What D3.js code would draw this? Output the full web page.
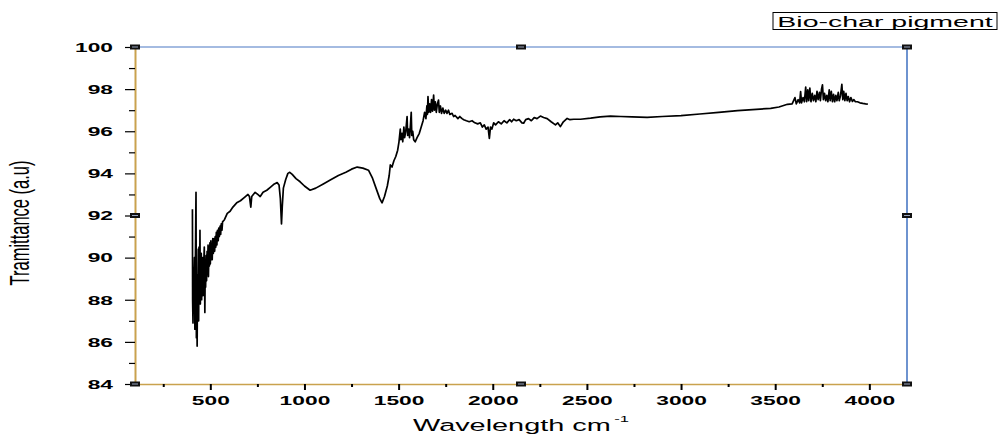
<!DOCTYPE html>
<html>
<head>
<meta charset="utf-8">
<script src="https://cdn.jsdelivr.net/npm/d3@7"></script>
<style>
  html, body { margin: 0; padding: 0; background: #fff; }
  svg { display: block; }
  text { font-family: "Liberation Sans", Arial, sans-serif; fill: #000; }
</style>
</head>
<body>
<svg id="chart" width="999" height="436"></svg>
<script>
// ---- data ----
const legendLabel = "Bio-char pigment";
const xTitle = "Wavelength cm";
const xTitleSup = "-1";
const yTitle = "Tramittance (a.u)";
const xDomain = [100, 4200];
const yDomain = [84, 100];
const xTickValues = [500, 1000, 1500, 2000, 2500, 3000, 3500, 4000];
const xMinorTicks = [250, 750, 1250, 1750, 2250, 2750, 3250, 3750];
const yTickValues = [84, 86, 88, 90, 92, 94, 96, 98, 100];
const yMinorTicks = [85, 87, 89, 91, 93, 95, 97, 99];

const spectrum = [
  [405, 92.3],[406, 88.0],[408, 86.9],[410, 89.5],[412, 87.4],[413, 88.8],[416, 90.0],[418, 86.6],
  [419, 88.2],[422, 91.0],[424, 93.1],[426, 86.2],[428, 88.5],[430, 85.8],[432, 89.2],[433, 87.6],
  [436, 90.4],[438, 87.0],[440, 90.5],[443, 88.2],[445, 91.3],[447, 87.8],[448, 89.4],[452, 90.2],
  [454, 88.0],[456, 89.6],[460, 90.0],[462, 88.2],[464, 89.4],[468, 90.5],[471, 87.4],[473, 89.6],
  [475, 88.6],[478, 90.1],[480, 88.9],[483, 90.3],[485, 89.2],[488, 90.6],[490, 89.1],[493, 90.5],
  [495, 89.6],[498, 90.7],[500, 89.7],[503, 90.8],[505, 89.9],[508, 90.6],[510, 89.9],[513, 90.9],
  [516, 90.2],[520, 90.9],[523, 90.3],[526, 91.0],[529, 90.5],[532, 91.2],[535, 90.6],[538, 91.3],
  [542, 90.8],[545, 91.4],[548, 91.0],[552, 91.5],[555, 91.1],[558, 91.6],[562, 91.3],[565, 91.7],
  [575, 91.8],[590, 92.1],[605, 92.2],[620, 92.4],[640, 92.6],[660, 92.7],[680, 92.85],
  [700, 93.0],[708, 92.9],[715, 92.4],[720, 92.9],[738, 93.1],[752, 93.0],[765, 92.9],[780, 93.1],
  [800, 93.2],[820, 93.35],[840, 93.5],[855, 93.56],[865, 93.45],[872, 92.8],[878, 91.6],[882, 92.4],
  [888, 93.3],[900, 93.7],[912, 94.0],[922, 94.05],[935, 93.95],[955, 93.75],[977, 93.6],[1000, 93.4],
  [1030, 93.2],[1060, 93.3],[1100, 93.5],[1137, 93.68],[1180, 93.9],[1220, 94.05],[1250, 94.2],
  [1280, 94.3],[1310, 94.25],[1340, 94.15],[1360, 93.8],[1380, 93.3],[1400, 92.8],[1412, 92.6],
  [1425, 92.9],[1440, 93.4],[1450, 93.9],[1456, 94.4],[1465, 94.3],[1475, 94.6],[1485, 94.8],
  [1495, 95.1],[1502, 95.5],[1509, 96.1],[1512, 95.6],[1518, 95.9],[1522, 95.5],[1528, 96.2],
  [1532, 95.7],[1538, 96.0],[1545, 96.7],[1548, 95.8],[1553, 96.1],[1558, 95.7],[1563, 96.3],
  [1567, 96.9],[1570, 95.8],[1575, 96.0],[1580, 95.6],[1588, 95.5],[1598, 95.7],[1610, 95.9],
  [1620, 96.2],[1630, 96.5],[1638, 96.9],[1645, 96.6],[1650, 97.2],[1653, 96.8],[1656, 97.65],
  [1660, 96.9],[1665, 97.3],[1670, 96.9],[1675, 97.5],[1680, 96.95],[1686, 97.72],[1690, 97.0],
  [1695, 97.4],[1700, 96.9],[1706, 97.3],[1712, 97.48],[1716, 96.9],[1722, 97.2],[1728, 96.85],
  [1735, 97.1],[1742, 96.85],[1750, 97.0],[1757, 96.85],[1765, 97.0],[1772, 96.8],[1784, 96.85],
  [1792, 96.7],[1800, 96.75],[1815, 96.6],[1825, 96.7],[1837, 96.6],[1846, 96.55],[1860, 96.5],
  [1875, 96.45],[1890, 96.5],[1905, 96.4],[1920, 96.35],[1934, 96.4],[1945, 96.2],[1955, 96.3],
  [1965, 96.1],[1975, 96.2],[1982, 95.66],[1988, 96.2],[1995, 96.1],[2005, 96.4],[2015, 96.3],
  [2030, 96.45],[2045, 96.35],[2060, 96.5],[2075, 96.4],[2090, 96.55],[2100, 96.45],[2111, 96.57],
  [2125, 96.5],[2140, 96.55],[2155, 96.4],[2164, 96.38],[2175, 96.55],[2190, 96.6],[2205, 96.5],
  [2220, 96.65],[2235, 96.6],[2253, 96.72],[2270, 96.65],[2289, 96.6],[2310, 96.45],[2333, 96.3],
  [2345, 96.4],[2359, 96.22],[2375, 96.45],[2395, 96.61],[2410, 96.55],[2430, 96.57],[2466, 96.57],
  [2520, 96.62],[2570, 96.68],[2625, 96.72],[2680, 96.7],[2740, 96.68],[2820, 96.66],[2900, 96.7],
  [3000, 96.74],[3100, 96.82],[3200, 96.9],[3300, 96.98],[3400, 97.04],[3476, 97.09],[3520, 97.15],
  [3565, 97.28],[3590, 97.3],[3605, 97.6],[3612, 97.3],[3622, 97.5],[3630, 97.35],[3635, 97.88],
  [3640, 97.35],[3648, 97.6],[3655, 97.4],[3662, 98.1],[3667, 97.4],[3673, 97.96],[3678, 97.45],
  [3684, 98.05],[3690, 97.4],[3697, 97.8],[3703, 97.45],[3710, 97.7],[3716, 97.4],[3722, 97.9],
  [3728, 97.5],[3735, 97.85],[3740, 97.45],[3746, 98.0],[3751, 98.2],[3756, 97.5],[3762, 97.8],
  [3768, 97.45],[3774, 97.7],[3780, 97.4],[3787, 97.96],[3792, 97.45],[3798, 97.9],[3804, 97.4],
  [3810, 97.75],[3816, 97.4],[3822, 97.7],[3828, 97.45],[3835, 97.85],[3840, 97.45],[3847, 97.7],
  [3854, 98.23],[3859, 97.5],[3864, 97.9],[3870, 97.45],[3876, 97.8],[3882, 97.45],[3888, 97.65],
  [3895, 97.4],[3902, 97.6],[3910, 97.42],[3918, 97.5],[3926, 97.4],[3937, 97.4],[3950, 97.35],
  [3965, 97.32],[3980, 97.3],[3992, 97.29]
];

// ---- layout ----
const plot = { left: 135, right: 907, top: 47, bottom: 384 };
const SX = 1.9; // horizontal stretch of the reference's text
const gold = "#c9a24e", blue = "#4a78c4";

const svg = d3.select("#chart");
const x = d3.scaleLinear().domain(xDomain).range([plot.left, plot.right]);
const y = d3.scaleLinear().domain(yDomain).range([plot.bottom, plot.top]);

// frame: top & right blue
svg.append("line").attr("x1", plot.left).attr("x2", plot.right).attr("y1", plot.top).attr("y2", plot.top)
  .attr("stroke", blue).attr("stroke-width", 1.2);
svg.append("line").attr("x1", plot.right).attr("x2", plot.right).attr("y1", plot.top).attr("y2", plot.bottom)
  .attr("stroke", blue).attr("stroke-width", 1.6);

// data line
svg.append("path").datum(spectrum)
  .attr("fill", "none").attr("stroke", "#000").attr("stroke-width", 1.7).attr("stroke-linejoin", "round")
  .attr("d", d3.line().x(d => x(d[0])).y(d => y(d[1])));

const labelFont = sel => sel.style("font-size", "12px").style("font-weight", "bold")
  .style("font-family", "'Liberation Sans', Arial, sans-serif").attr("fill", "#111");

// left axis
const gy = svg.append("g").attr("transform", `translate(${plot.left},0)`)
  .call(d3.axisLeft(y).tickValues(yTickValues).tickSize(10).tickSizeOuter(0).tickFormat(d3.format("d")));
gy.select(".domain").attr("stroke", gold).attr("stroke-width", 2);
gy.selectAll(".tick line").attr("stroke", "#000").attr("stroke-width", 1.2);
gy.selectAll(".tick text")
  .attr("x", 0).attr("dy", "0.36em").attr("text-anchor", "end")
  .attr("transform", `translate(-22,0) scale(${SX},1)`)
  .call(labelFont);
const gym = svg.append("g").attr("transform", `translate(${plot.left},0)`)
  .call(d3.axisLeft(y).tickValues(yMinorTicks).tickSize(6).tickFormat(""));
gym.select(".domain").remove();
gym.selectAll(".tick line").attr("stroke", "#000").attr("stroke-width", 1.2);

// bottom axis
const gx = svg.append("g").attr("transform", `translate(0,${plot.bottom})`)
  .call(d3.axisBottom(x).tickValues(xTickValues).tickSize(6).tickSizeOuter(0).tickFormat(d3.format("d")));
gx.select(".domain").attr("stroke", gold).attr("stroke-width", 1.5);
gx.selectAll(".tick line").attr("stroke", "#000").attr("stroke-width", 2);
gx.selectAll(".tick text")
  .attr("y", 21).attr("dy", 0).attr("text-anchor", "middle")
  .attr("transform", `scale(${SX},1)`)
  .call(labelFont);
const gxm = svg.append("g").attr("transform", `translate(0,${plot.bottom})`)
  .call(d3.axisBottom(x).tickValues(xMinorTicks).tickSize(3).tickFormat(""));
gxm.select(".domain").remove();
gxm.selectAll(".tick line").attr("stroke", "#000").attr("stroke-width", 2);

// selection handles
const midX = (plot.left + plot.right) / 2, midY = (plot.top + plot.bottom) / 2;
const handles = [
  [plot.left, plot.top], [midX, plot.top], [plot.right, plot.top],
  [plot.left, midY], [plot.right, midY],
  [plot.left, plot.bottom], [midX, plot.bottom], [plot.right, plot.bottom]
];
const hg = svg.append("g");
hg.selectAll("rect.h").data(handles).join("rect").attr("class", "h")
  .attr("x", d => d[0] - 5).attr("y", d => d[1] - 2.5).attr("width", 10).attr("height", 5)
  .attr("fill", "#111");
hg.selectAll("rect.hi").data(handles).join("rect").attr("class", "hi")
  .attr("x", d => d[0] - 3).attr("y", d => d[1] - 0.5).attr("width", 6).attr("height", 1)
  .attr("fill", "#9aa6c0");

// axis titles
const xt = svg.append("text")
  .attr("transform", `translate(${midX},431) scale(1.75,1)`)
  .attr("text-anchor", "middle").style("font-size", "16.5px");
xt.append("tspan").text(xTitle);
xt.append("tspan").attr("dx", 2).attr("dy", -9).style("font-size", "9.5px").text(xTitleSup);

svg.append("text")
  .attr("transform", `translate(29,223) scale(1.7,1) rotate(-90)`)
  .attr("text-anchor", "middle").style("font-size", "16.5px").text(yTitle);

// legend box
const lg = svg.append("g");
lg.append("rect").attr("x", 773).attr("y", 12.5).attr("width", 224).attr("height", 17)
  .attr("fill", "#fff").attr("stroke", "#000").attr("stroke-width", 1);
lg.append("text").attr("transform", `translate(885,26.5) scale(1.9,1)`)
  .attr("text-anchor", "middle").style("font-size", "15px").text(legendLabel);
</script>
</body>
</html>
